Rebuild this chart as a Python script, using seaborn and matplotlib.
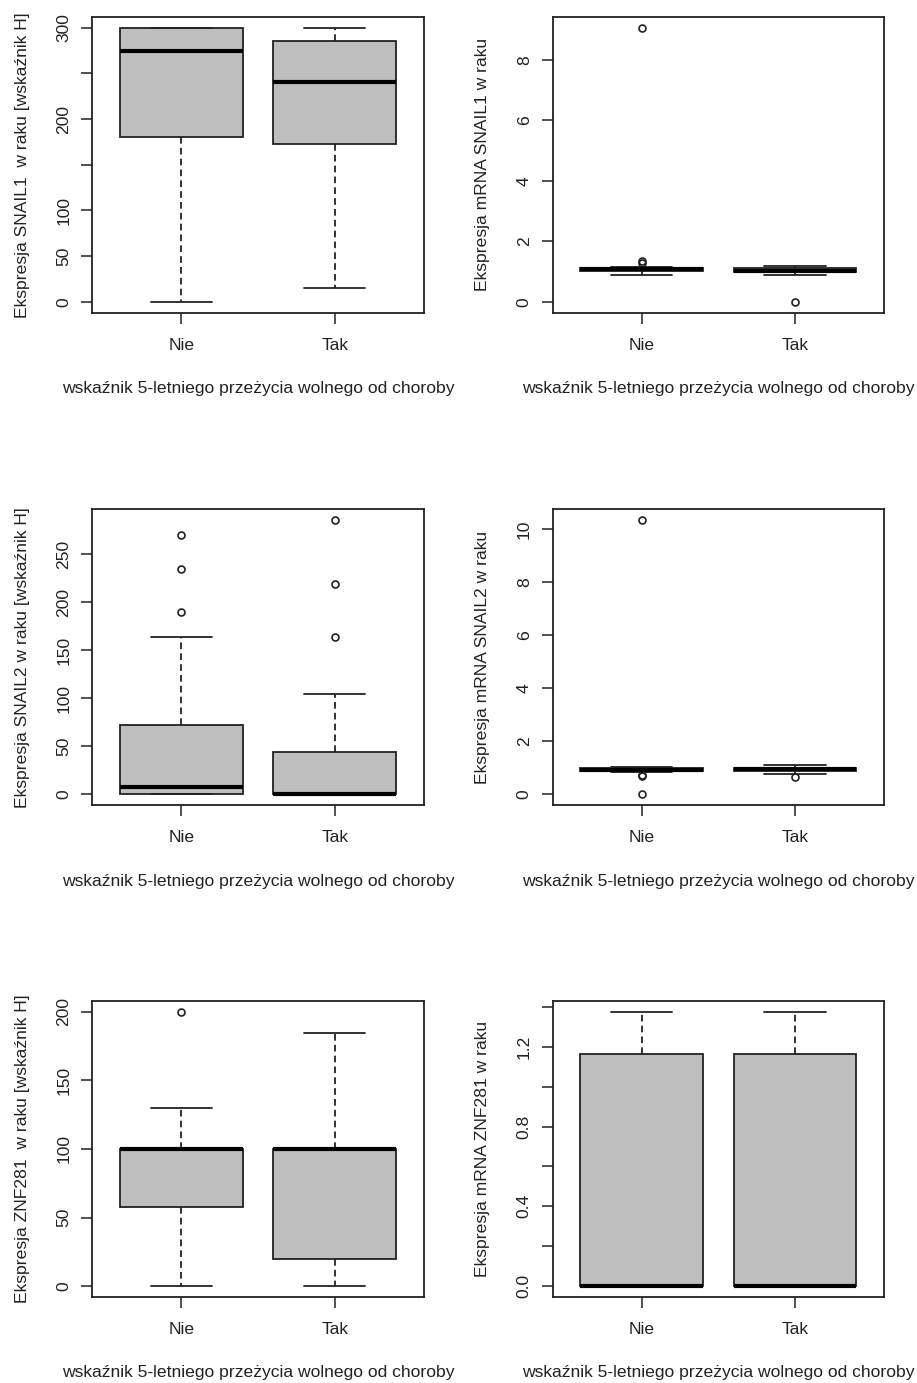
import seaborn as sns
import matplotlib.pyplot as plt
import pandas as pd

groups = ["Nie", "Tak"]
x_title = "wskaźnik 5-letniego przeżycia wolnego od choroby"

# five numbers: low whisker, q1, median, q3, high whisker
snail1_h_nie = [0, 180, 275, 300, 300]
snail1_h_tak = [15, 173, 240.5, 285.5, 300]
snail1_h_out_nie = []
snail1_h_out_tak = []

snail1_m_nie = [0.89, 1.02, 1.07, 1.12, 1.16]
snail1_m_tak = [0.89, 0.97, 1.03, 1.12, 1.17]
snail1_m_out_nie = [1.28, 1.34, 9.06]
snail1_m_out_tak = [0.0]

snail2_h_nie = [0, 0, 8, 72, 164]
snail2_h_tak = [0, 0, 0, 44, 104]
snail2_h_out_nie = [190, 234, 270]
snail2_h_out_tak = [164, 219, 285]

snail2_m_nie = [0.83, 0.90, 0.93, 1.00, 1.04]
snail2_m_tak = [0.76, 0.88, 0.94, 1.00, 1.10]
snail2_m_out_nie = [0.0, 0.68, 0.73, 10.34]
snail2_m_out_tak = [0.65]

znf281_h_nie = [0, 58, 100, 100, 130]
znf281_h_tak = [0, 20, 100, 100, 185]
znf281_h_out_nie = [200]
znf281_h_out_tak = []

znf281_m_nie = [0, 0, 0, 1.163, 1.375]
znf281_m_tak = [0, 0, 0, 1.163, 1.375]
znf281_m_out_nie = []
znf281_m_out_tak = []

y_titles = [
    "Ekspresja SNAIL1  w raku [wskaźnik H]",
    "Ekspresja mRNA SNAIL1 w raku",
    "Ekspresja SNAIL2 w raku [wskaźnik H]",
    "Ekspresja mRNA SNAIL2 w raku",
    "Ekspresja ZNF281  w raku [wskaźnik H]",
    "Ekspresja mRNA ZNF281 w raku",
]
y_ticks = [
    [0, 50, 100, 150, 200, 250, 300],
    [0, 2, 4, 6, 8],
    [0, 50, 100, 150, 200, 250],
    [0, 2, 4, 6, 8, 10],
    [0, 50, 100, 150, 200],
    [0, 0.2, 0.4, 0.6, 0.8, 1.0, 1.2, 1.4],
]
y_tick_labels = [
    ["0", "50", "100", "", "200", "", "300"],
    ["0", "2", "4", "6", "8"],
    ["0", "50", "100", "150", "200", "250"],
    ["0", "2", "4", "6", "8", "10"],
    ["0", "50", "100", "150", "200"],
    ["0.0", "", "0.4", "", "0.8", "", "1.2", ""],
]

panels = [
    (snail1_h_nie, snail1_h_tak, snail1_h_out_nie, snail1_h_out_tak),
    (snail1_m_nie, snail1_m_tak, snail1_m_out_nie, snail1_m_out_tak),
    (snail2_h_nie, snail2_h_tak, snail2_h_out_nie, snail2_h_out_tak),
    (snail2_m_nie, snail2_m_tak, snail2_m_out_nie, snail2_m_out_tak),
    (znf281_h_nie, znf281_h_tak, znf281_h_out_nie, znf281_h_out_tak),
    (znf281_m_nie, znf281_m_tak, znf281_m_out_nie, znf281_m_out_tak),
]


def sample(five, outliers):
    # plateaus so that the percentiles land on the read quartiles
    lo, q1, med, q3, hi = five
    return [lo] + [q1] * 10 + [med] * 10 + [q3] * 10 + [hi] + list(outliers)


sns.set_style("ticks")
plt.rcParams["font.family"] = ["Liberation Sans", "DejaVu Sans"]
ink = "#222222"

fig = plt.figure(figsize=(9.17, 13.83), dpi=100)
cols = [0.1007, 0.6027]
rows = [0.7739, 0.4177, 0.0622]

for i, (nie, tak, out_nie, out_tak) in enumerate(panels):
    ax = fig.add_axes([cols[i % 2], rows[i // 2], 0.3614, 0.2140])
    a = sample(nie, out_nie)
    b = sample(tak, out_tak)
    df = pd.DataFrame({"grupa": ["Nie"] * len(a) + ["Tak"] * len(b), "wartosc": a + b})
    sns.boxplot(data=df, x="grupa", y="wartosc", order=groups, ax=ax,
                color="#BEBEBE", saturation=1, linecolor=ink, linewidth=1.3,
                width=0.8, whis=1.5,
                whiskerprops=dict(linestyle=(0, (3.7, 2.3))),
                medianprops=dict(linewidth=3.0, color="black"),
                flierprops=dict(marker="o", markerfacecolor="none",
                                markeredgecolor=ink, markersize=5,
                                markeredgewidth=1.2))
    vals = a + b
    span = max(vals) - min(vals)
    ax.set_ylim(min(vals) - 0.04 * span, max(vals) + 0.04 * span)
    ax.set_xlim(-0.58, 1.58)
    ax.set_yticks(y_ticks[i], y_tick_labels[i])
    for s in ax.spines.values():
        s.set_visible(True)
        s.set_color(ink)
        s.set_linewidth(1.3)
    ax.tick_params(axis="both", length=8, width=1.1, color=ink,
                   labelsize=12.6, labelcolor=ink, direction="out")
    ax.tick_params(axis="x", pad=10)
    ax.tick_params(axis="y", labelrotation=90, pad=7)
    for lab in ax.get_yticklabels():
        lab.set_va("center")
    ax.set_ylabel(y_titles[i], fontsize=12.6, color=ink, va="center")
    ax.yaxis.set_label_coords(-0.212, 0.5)
    ax.set_xlabel(x_title, fontsize=12.6, color=ink, va="center")
    ax.xaxis.set_label_coords(0.5, -0.256)

fig.savefig("out.png", dpi=100)
